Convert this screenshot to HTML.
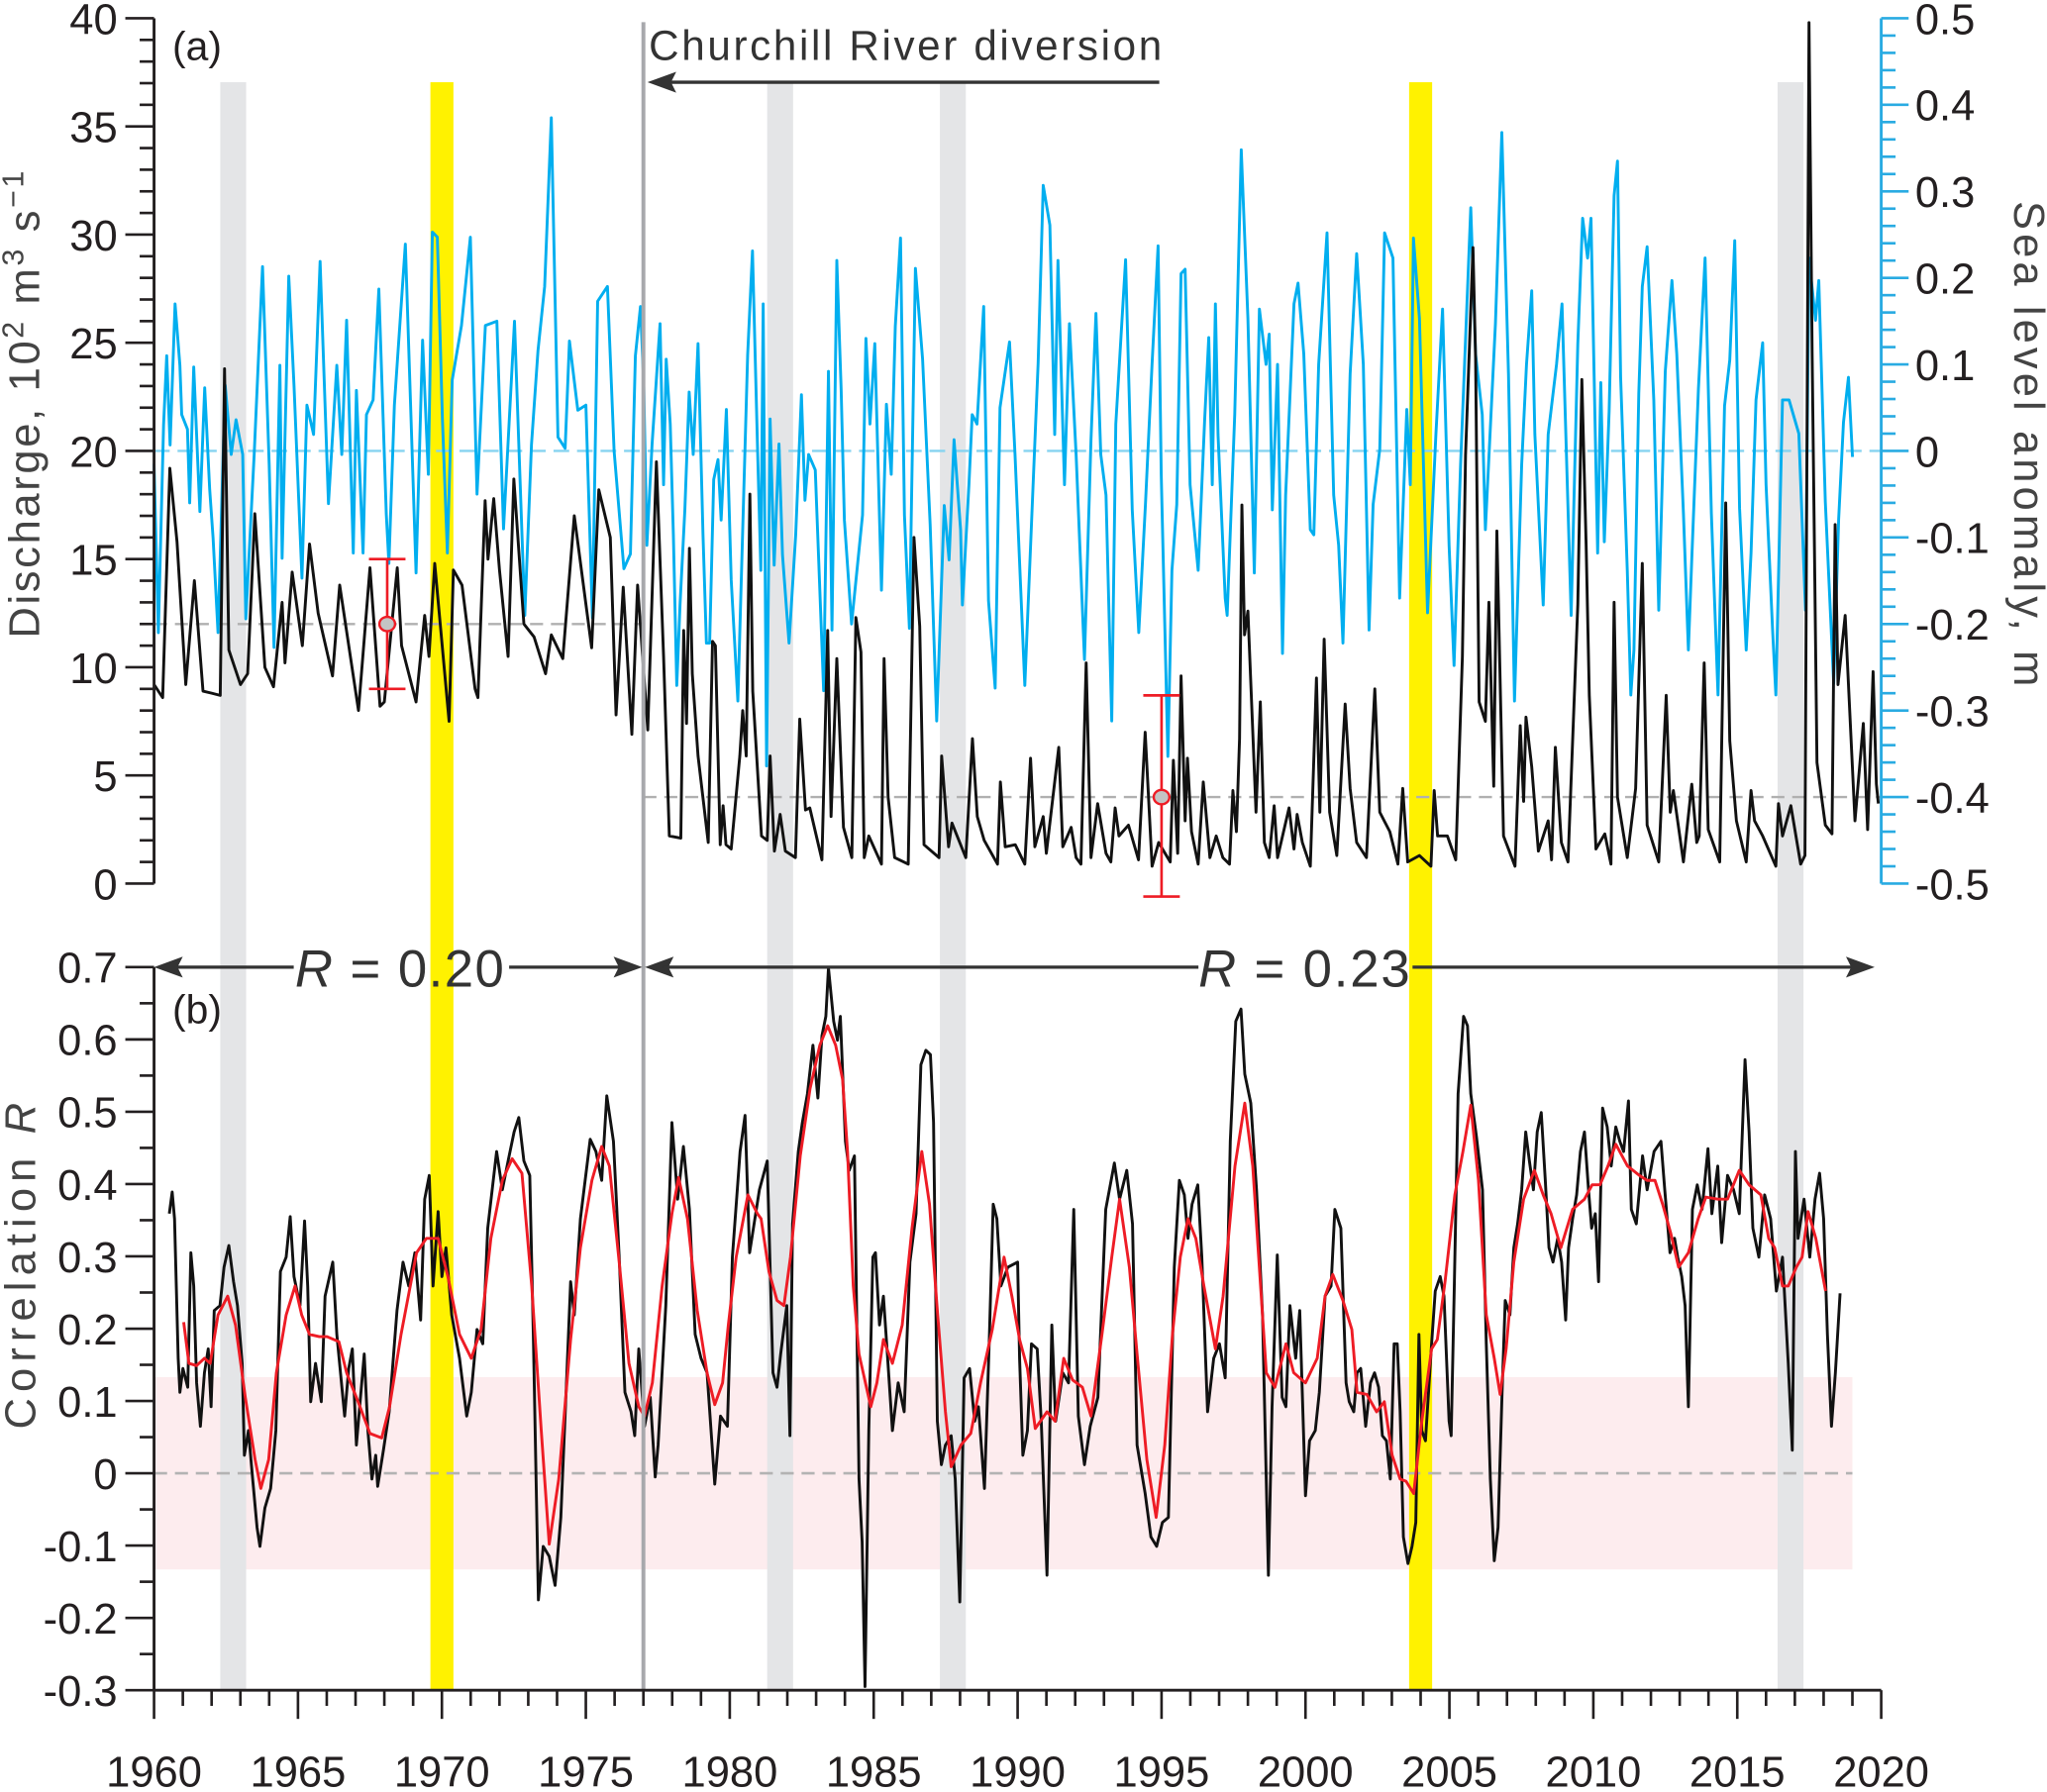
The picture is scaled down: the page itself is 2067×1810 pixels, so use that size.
<!DOCTYPE html>
<html><head><meta charset="utf-8"><style>
html,body{margin:0;padding:0;background:#fff;}
svg{display:block;font-family:"Liberation Sans",Arial,sans-serif;}
</style></head><body>
<svg id="chart" xmlns="http://www.w3.org/2000/svg" width="2067" height="1810" viewBox="0 0 1568 1373" preserveAspectRatio="none">
<g id="bg"></g>
<g id="series"></g>
<g id="axes"></g>
<g id="annot">
<text x="132" y="46" font-size="31" fill="#231f20">(a)</text>
<text x="132" y="784" font-size="31" fill="#231f20">(b)</text>
<text x="497" y="46" font-size="32" fill="#333" textLength="393">Churchill River diversion</text>
<line x1="888" y1="63" x2="510" y2="63" stroke="#333" stroke-width="2.5"/>
<polygon points="496,63 518,55 514,63 518,71" fill="#333"/>
<text x="30" y="310" font-size="33" fill="#444" text-anchor="middle" transform="rotate(-90 30 310)" textLength="358">Discharge, 10<tspan dy="-12" font-size="23">2</tspan><tspan dy="12"> m</tspan><tspan dy="-12" font-size="23">3</tspan><tspan dy="12"> s</tspan><tspan dy="-12" font-size="23">−1</tspan></text>
<text x="27" y="970" font-size="33" fill="#444" text-anchor="middle" transform="rotate(-90 27 970)" textLength="250">Correlation <tspan font-style="italic">R</tspan></text>
<text x="1543" y="340" font-size="33" fill="#444" text-anchor="middle" transform="rotate(90 1543 340)" textLength="372">Sea level anomaly, m</text>
<line x1="132" y1="741" x2="225" y2="741" stroke="#333" stroke-width="2.5"/>
<polygon points="118,741 140,733 136,741 140,749" fill="#333"/>
<text x="226" y="756" font-size="40" fill="#333" textLength="160"><tspan font-style="italic">R</tspan> = 0.20</text>
<line x1="390" y1="741" x2="478" y2="741" stroke="#333" stroke-width="2.5"/>
<polygon points="492,741 470,733 474,741 470,749" fill="#333"/>
<polygon points="494,741 516,733 512,741 516,749" fill="#333"/>
<line x1="508" y1="741" x2="918" y2="741" stroke="#333" stroke-width="2.5"/>
<text x="918" y="756" font-size="40" fill="#333" textLength="162"><tspan font-style="italic">R</tspan> = 0.23</text>
<line x1="1082" y1="741" x2="1422" y2="741" stroke="#333" stroke-width="2.5"/>
<polygon points="1436,741 1414,733 1418,741 1414,749" fill="#333"/>
</g>
</svg>
<script>
// ---- data ----
const dischargeYears=[1960.0,1960.3,1960.55,1960.8,1961.1,1961.4,1961.7,1962.0,1962.3,1962.45,1962.6,1963.0,1963.25,1963.5,1963.85,1964.15,1964.45,1964.55,1964.8,1965.15,1965.4,1965.7,1966.2,1966.45,1967.1,1967.5,1967.85,1968.0,1968.45,1968.6,1969.1,1969.4,1969.55,1969.75,1970.25,1970.4,1970.7,1971.15,1971.25,1971.5,1971.6,1971.8,1972.0,1972.3,1972.5,1972.85,1973.2,1973.6,1973.8,1974.2,1974.6,1975.2,1975.45,1975.85,1976.05,1976.3,1976.6,1976.8,1977.15,1977.45,1977.7,1977.9,1978.3,1978.4,1978.5,1978.6,1978.7,1978.9,1979.25,1979.4,1979.5,1979.67,1979.77,1979.87,1980.05,1980.35,1980.45,1980.57,1980.7,1980.8,1981.1,1981.3,1981.4,1981.55,1981.75,1981.93,1982.28,1982.43,1982.63,1982.78,1983.2,1983.4,1983.52,1983.72,1983.95,1984.24,1984.38,1984.56,1984.67,1984.83,1985.27,1985.36,1985.5,1985.73,1986.2,1986.4,1986.6,1986.75,1987.27,1987.36,1987.6,1987.72,1988.2,1988.43,1988.6,1988.84,1989.3,1989.4,1989.57,1989.92,1990.25,1990.45,1990.6,1990.89,1991.0,1991.43,1991.57,1991.86,1992.03,1992.2,1992.38,1992.55,1992.78,1993.07,1993.24,1993.39,1993.52,1993.85,1994.2,1994.43,1994.67,1994.9,1995.3,1995.41,1995.56,1995.68,1995.82,1995.9,1996.04,1996.27,1996.45,1996.68,1996.9,1997.13,1997.36,1997.48,1997.6,1997.71,1997.79,1997.88,1998.0,1998.28,1998.43,1998.57,1998.74,1998.91,1999.03,1999.43,1999.6,1999.71,1999.89,2000.17,2000.38,2000.5,2000.65,2000.84,2001.09,2001.38,2001.55,2001.78,2002.12,2002.41,2002.58,2002.93,2003.21,2003.38,2003.55,2003.96,2004.36,2004.47,2004.59,2004.93,2005.22,2005.45,2005.56,2005.82,2005.91,2006.03,2006.25,2006.37,2006.54,2006.65,2006.88,2007.28,2007.46,2007.58,2007.66,2007.86,2008.09,2008.43,2008.55,2008.68,2008.89,2009.12,2009.46,2009.6,2009.75,2009.86,2010.09,2010.4,2010.61,2010.72,2010.84,2011.18,2011.47,2011.7,2011.87,2012.27,2012.53,2012.67,2012.78,2013.13,2013.42,2013.59,2013.68,2013.85,2013.99,2014.39,2014.6,2014.74,2014.97,2015.31,2015.48,2015.6,2015.88,2016.34,2016.43,2016.57,2016.86,2017.2,2017.35,2017.49,2017.6,2017.77,2018.06,2018.29,2018.4,2018.5,2018.75,2019.09,2019.38,2019.53,2019.72,2019.83,2019.9];
const dischargeValues=[9.2,8.6,19.2,15.8,9.2,14,8.9,8.8,8.7,23.8,10.8,9.2,9.7,17.1,10,9.1,13,10.2,14.4,11,15.7,12.5,9.6,13.8,8,14.6,8.2,8.4,14.6,11,8.4,12.4,10.5,14.8,7.5,14.5,13.8,9,8.6,17.7,15,17.8,14.5,10.5,18.7,12,11.4,9.7,11.5,10.4,17,10.9,18.2,16,7.8,13.7,6.9,13.8,7.1,19.5,10.5,2.2,2.1,11.7,7.4,15.5,9.7,5.9,1.9,11.2,11.0,1.8,3.6,1.8,1.6,5.9,8,5.9,18,8.9,2.2,2.0,5.9,1.5,3.2,1.5,1.2,7.6,3.4,3.5,1.1,11.7,3.1,10.4,2.6,1.2,12.3,10.7,1.2,2.2,0.9,10.4,4,1.2,0.9,16,11.9,1.8,1.2,5.9,1.7,2.8,1.2,6.7,3.1,2.0,0.9,4.7,1.7,1.8,0.9,5.8,1.7,3.1,1.4,6.3,1.7,2.6,1.2,0.9,10.2,1.2,3.7,1.4,1.0,3.5,2.2,2.7,1.1,7.0,0.8,1.9,1.0,5.7,1.4,9.6,2.9,5.8,2.4,0.9,4.7,1.2,2.2,1.2,0.9,4.3,2.4,6.7,17.5,11.5,12.6,3.3,8.4,1.9,1.2,3.6,1.2,3.5,1.6,3.2,1.9,0.8,9.5,3.3,11.3,3.3,1.3,8.3,4.4,1.9,1.2,9.0,3.3,2.4,0.9,4.4,1.0,1.3,0.8,4.3,2.2,2.2,1.1,10.5,19.8,29.4,24.3,8.4,7.5,13,4.5,16.3,2.2,0.8,7.3,3.8,7.7,5.4,1.5,2.9,1.1,6.3,1.9,1.0,12.9,23.3,15.6,8.7,1.6,2.3,0.9,13.0,4.0,1.2,4.4,14.8,2.7,1.0,8.7,3.3,4.3,1.0,4.6,1.9,2.2,10.2,2.5,1.0,17.6,6.6,2.9,1.0,4.3,2.9,2.2,0.8,3.7,2.2,3.6,0.9,1.3,39.8,24.5,5.6,2.7,2.3,16.6,9.2,12.4,2.9,7.4,2.5,9.8,4.6,3.7];
const seaLevelYears=[1960.0,1960.15,1960.33,1960.44,1960.56,1960.73,1960.9,1960.96,1961.16,1961.24,1961.38,1961.59,1961.76,1961.93,1962.05,1962.22,1962.47,1962.68,1962.85,1963.08,1963.19,1963.48,1963.77,1964.0,1964.17,1964.37,1964.45,1964.68,1964.86,1965.14,1965.31,1965.54,1965.77,1966.06,1966.35,1966.52,1966.69,1966.92,1967.03,1967.26,1967.38,1967.61,1967.81,1968.07,1968.16,1968.35,1968.73,1969.1,1969.33,1969.53,1969.67,1969.84,1970.02,1970.19,1970.36,1970.68,1970.99,1971.22,1971.51,1971.91,1972.14,1972.52,1972.88,1973.11,1973.34,1973.57,1973.8,1974.03,1974.28,1974.43,1974.72,1975.0,1975.23,1975.41,1975.75,1975.98,1976.32,1976.55,1976.72,1976.9,1977.01,1977.12,1977.3,1977.58,1977.7,1977.79,1977.93,1978.04,1978.16,1978.27,1978.44,1978.59,1978.73,1978.9,1979.07,1979.19,1979.3,1979.44,1979.59,1979.7,1979.88,1980.05,1980.28,1980.45,1980.62,1980.79,1980.97,1981.08,1981.16,1981.28,1981.4,1981.54,1981.71,1981.83,1982.06,1982.29,1982.49,1982.61,1982.74,1982.97,1983.26,1983.43,1983.55,1983.72,1983.87,1983.98,1984.23,1984.61,1984.73,1984.87,1985.04,1985.27,1985.44,1985.61,1985.75,1985.93,1986.07,1986.24,1986.45,1986.7,1986.96,1987.19,1987.45,1987.62,1987.79,1988.02,1988.08,1988.31,1988.42,1988.59,1988.82,1988.99,1989.22,1989.39,1989.72,1989.91,1990.25,1990.48,1990.71,1990.89,1991.12,1991.29,1991.4,1991.63,1991.8,1992.03,1992.32,1992.55,1992.72,1992.89,1993.07,1993.27,1993.41,1993.75,1993.98,1994.21,1994.44,1994.67,1994.88,1994.99,1995.22,1995.36,1995.53,1995.68,1995.82,1995.99,1996.27,1996.5,1996.64,1996.76,1996.87,1996.96,1997.21,1997.28,1997.54,1997.77,1998.0,1998.22,1998.4,1998.63,1998.74,1998.85,1999.03,1999.2,1999.31,1999.6,1999.74,1999.94,2000.17,2000.29,2000.46,2000.75,2000.98,2001.15,2001.3,2001.55,2001.78,2002.01,2002.21,2002.35,2002.58,2002.75,2003.04,2003.27,2003.52,2003.64,2003.75,2003.96,2004.24,2004.53,2004.76,2004.99,2005.16,2005.39,2005.74,2005.91,2006.14,2006.25,2006.6,2006.82,2007.05,2007.26,2007.51,2007.68,2007.86,2007.97,2008.26,2008.43,2008.72,2008.91,2009.23,2009.46,2009.63,2009.8,2009.92,2010.15,2010.26,2010.38,2010.55,2010.72,2010.84,2010.95,2011.18,2011.3,2011.41,2011.58,2011.7,2011.87,2012.1,2012.27,2012.5,2012.73,2012.9,2013.13,2013.3,2013.42,2013.65,2013.88,2014.1,2014.33,2014.56,2014.74,2014.91,2015.08,2015.31,2015.48,2015.65,2015.88,2016.0,2016.23,2016.34,2016.57,2016.8,2017.14,2017.37,2017.49,2017.72,2017.83,2018.06,2018.35,2018.52,2018.69,2018.86,2019.0];
const seaLevelValues=[-0.015,-0.21,0.03,0.11,0.007,0.17,0.099,0.042,0.025,-0.06,0.097,-0.07,0.073,-0.044,-0.1,-0.21,0.076,-0.004,0.036,-0.004,-0.194,-0.004,0.213,-0.016,-0.227,0.099,-0.124,0.202,0.076,-0.147,0.053,0.019,0.219,-0.061,0.099,-0.004,0.151,-0.118,0.07,-0.118,0.042,0.059,0.187,-0.073,-0.13,0.053,0.239,-0.141,0.128,-0.027,0.253,0.247,0.036,-0.118,0.082,0.145,0.247,-0.05,0.145,0.15,-0.09,0.15,-0.19,0.007,0.116,0.19,0.385,0.016,0.003,0.127,0.047,0.053,-0.193,0.173,0.19,0.0,-0.136,-0.119,0.11,0.167,0.077,-0.109,0.008,0.147,-0.039,0.106,0.031,-0.097,-0.271,-0.178,-0.068,0.068,-0.004,0.124,-0.097,-0.222,-0.222,-0.033,-0.01,-0.08,0.048,-0.149,-0.289,-0.092,0.111,0.231,-0.004,-0.138,0.17,-0.364,0.037,-0.132,0.008,-0.12,-0.222,-0.097,0.065,-0.057,-0.004,-0.022,-0.277,0.092,-0.207,0.22,0.072,-0.08,-0.2,-0.074,0.13,0.031,0.124,-0.161,0.054,-0.027,0.144,0.246,-0.074,-0.205,0.211,0.106,-0.085,-0.312,-0.063,-0.126,0.013,-0.091,-0.178,-0.039,0.042,0.031,0.167,-0.173,-0.274,0.05,0.126,-0.004,-0.271,-0.085,0.101,0.307,0.261,0.019,0.22,-0.039,0.147,-0.004,-0.241,0.013,0.159,-0.004,-0.051,-0.312,0.031,0.221,-0.068,-0.21,-0.062,0.101,0.237,-0.027,-0.353,-0.138,-0.062,0.205,0.21,-0.039,-0.138,0.037,0.131,-0.039,0.17,0.019,-0.17,-0.19,0.042,0.348,0.153,-0.141,0.164,0.1,0.135,-0.068,0.1,-0.234,-0.051,0.17,0.194,0.112,-0.091,-0.097,0.1,0.252,-0.051,-0.109,-0.222,0.089,0.228,0.1,-0.207,-0.062,0.002,0.252,0.223,-0.17,0.048,-0.039,0.246,0.153,-0.187,0.019,0.164,-0.109,-0.248,-0.016,0.281,0.112,0.042,-0.091,0.147,0.368,0.089,-0.289,-0.016,0.1,0.185,0.019,-0.178,0.019,0.1,0.17,-0.19,0.124,0.269,0.223,0.269,-0.118,0.079,-0.105,0.046,0.295,0.335,0.085,-0.138,-0.282,-0.23,0.066,0.19,0.236,0.059,-0.184,0.092,0.197,0.112,-0.072,-0.23,-0.125,0.072,0.223,-0.072,-0.282,0.052,0.105,0.243,-0.066,-0.23,-0.118,0.059,0.125,-0.039,-0.21,-0.282,0.059,0.059,0.02,-0.184,0.223,0.151,0.197,-0.059,-0.269,-0.079,0.033,0.085,-0.007];
const corrYears=[1960.53,1960.63,1960.71,1960.84,1960.9,1961.0,1961.17,1961.28,1961.38,1961.48,1961.61,1961.75,1961.88,1961.98,1962.09,1962.29,1962.43,1962.6,1962.76,1962.9,1963.06,1963.14,1963.28,1963.41,1963.58,1963.68,1963.85,1964.05,1964.23,1964.39,1964.59,1964.73,1964.86,1965.07,1965.23,1965.34,1965.44,1965.61,1965.81,1965.94,1966.21,1966.35,1966.62,1966.76,1966.89,1967.03,1967.3,1967.43,1967.57,1967.7,1967.77,1967.97,1968.17,1968.44,1968.65,1968.85,1969.06,1969.26,1969.4,1969.56,1969.69,1969.87,1970.0,1970.14,1970.34,1970.61,1970.86,1971.02,1971.22,1971.42,1971.59,1971.9,1972.1,1972.3,1972.51,1972.67,1972.85,1973.05,1973.18,1973.35,1973.52,1973.73,1973.93,1974.13,1974.27,1974.47,1974.6,1974.81,1975.15,1975.35,1975.55,1975.73,1975.96,1976.16,1976.36,1976.57,1976.7,1976.84,1977.04,1977.24,1977.41,1977.51,1977.78,1977.99,1978.19,1978.39,1978.6,1978.8,1979.0,1979.21,1979.48,1979.68,1979.92,1980.09,1980.36,1980.53,1980.69,1981.03,1981.3,1981.5,1981.64,1981.77,1981.98,1982.09,1982.18,1982.38,1982.52,1982.7,1982.89,1983.06,1983.2,1983.34,1983.43,1983.61,1983.74,1983.84,1984.02,1984.15,1984.33,1984.43,1984.49,1984.6,1984.7,1984.83,1984.97,1985.06,1985.2,1985.34,1985.45,1985.65,1985.85,1986.06,1986.26,1986.47,1986.64,1986.81,1986.97,1987.08,1987.21,1987.35,1987.49,1987.69,1987.83,1987.99,1988.14,1988.33,1988.51,1988.64,1988.85,1989.01,1989.15,1989.28,1989.42,1989.66,1990.0,1990.07,1990.18,1990.34,1990.48,1990.68,1990.82,1991.02,1991.19,1991.32,1991.57,1991.77,1991.95,1992.11,1992.32,1992.52,1992.79,1993.06,1993.36,1993.54,1993.79,1993.99,1994.15,1994.43,1994.63,1994.83,1995.03,1995.24,1995.44,1995.62,1995.79,1995.92,1996.06,1996.26,1996.4,1996.6,1996.81,1997.01,1997.21,1997.39,1997.58,1997.76,1997.89,1998.1,1998.3,1998.51,1998.71,1998.84,1999.02,1999.19,1999.32,1999.46,1999.66,1999.8,2000.0,2000.14,2000.34,2000.48,2000.68,2000.89,2001.02,2001.23,2001.41,2001.52,2001.68,2001.79,2001.92,2002.09,2002.26,2002.4,2002.54,2002.67,2002.81,2002.95,2003.08,2003.19,2003.29,2003.4,2003.56,2003.7,2003.83,2003.94,2004.04,2004.17,2004.38,2004.51,2004.68,2004.81,2004.99,2005.06,2005.17,2005.3,2005.49,2005.63,2005.74,2005.94,2006.15,2006.28,2006.42,2006.56,2006.69,2006.83,2006.94,2007.1,2007.24,2007.37,2007.51,2007.65,2007.78,2007.92,2008.05,2008.19,2008.33,2008.46,2008.6,2008.76,2008.9,2009.04,2009.14,2009.28,2009.42,2009.55,2009.69,2009.83,2009.94,2010.07,2010.18,2010.32,2010.48,2010.62,2010.78,2010.92,2011.05,2011.22,2011.32,2011.49,2011.71,2011.87,2012.11,2012.35,2012.48,2012.66,2012.82,2012.93,2013.07,2013.19,2013.3,2013.44,2013.61,2013.78,2013.98,2014.12,2014.32,2014.46,2014.66,2014.87,2015.07,2015.27,2015.41,2015.54,2015.75,2015.95,2016.16,2016.36,2016.57,2016.77,2016.91,2017.02,2017.11,2017.32,2017.52,2017.7,2017.86,2018.0,2018.13,2018.27,2018.41,2018.57];
const corrValues=[0.359,0.389,0.352,0.159,0.112,0.145,0.119,0.305,0.259,0.125,0.065,0.139,0.172,0.092,0.225,0.232,0.285,0.315,0.265,0.232,0.152,0.025,0.059,-0.001,-0.075,-0.101,-0.048,-0.021,0.059,0.279,0.299,0.355,0.272,0.232,0.349,0.259,0.099,0.152,0.099,0.245,0.292,0.192,0.079,0.145,0.172,0.039,0.165,0.059,-0.008,0.025,-0.018,0.032,0.085,0.225,0.292,0.259,0.305,0.212,0.379,0.412,0.259,0.362,0.272,0.312,0.219,0.159,0.079,0.112,0.199,0.179,0.339,0.445,0.392,0.432,0.472,0.492,0.432,0.412,0.185,-0.175,-0.101,-0.115,-0.155,-0.061,0.072,0.265,0.219,0.352,0.462,0.445,0.405,0.522,0.459,0.299,0.112,0.085,0.052,0.172,0.065,0.105,-0.005,0.039,0.232,0.485,0.379,0.452,0.365,0.192,0.159,0.139,-0.015,0.079,0.065,0.299,0.445,0.495,0.305,0.392,0.432,0.139,0.119,0.165,0.232,0.052,0.345,0.445,0.485,0.525,0.592,0.519,0.605,0.632,0.699,0.625,0.599,0.632,0.459,0.419,0.439,0.159,-0.008,-0.095,-0.295,0.059,0.299,0.305,0.205,0.245,0.179,0.059,0.125,0.085,0.292,0.359,0.565,0.585,0.579,0.485,0.072,0.012,0.039,0.052,-0.008,-0.178,0.132,0.145,0.072,0.092,-0.021,0.179,0.372,0.352,0.259,0.285,0.292,0.159,0.025,0.059,0.179,0.172,0.072,-0.141,0.205,0.072,0.139,0.125,0.365,0.079,0.012,0.065,0.105,0.365,0.429,0.379,0.419,0.345,0.039,-0.028,-0.088,-0.101,-0.068,-0.061,0.285,0.405,0.385,0.325,0.372,0.399,0.299,0.085,0.159,0.179,0.132,0.459,0.625,0.642,0.552,0.512,0.392,0.219,-0.141,0.092,0.302,0.105,0.092,0.232,0.159,0.225,-0.031,0.045,0.059,0.112,0.245,0.259,0.365,0.339,0.125,0.099,0.085,0.139,0.145,0.065,0.125,0.139,0.119,0.052,0.045,-0.008,0.179,0.179,0.085,-0.088,-0.125,-0.101,-0.068,0.192,0.059,0.045,0.179,0.252,0.272,0.245,0.072,0.052,0.259,0.525,0.632,0.619,0.525,0.465,0.392,0.179,-0.008,-0.121,-0.075,0.112,0.239,0.219,0.312,0.345,0.392,0.472,0.432,0.392,0.472,0.499,0.405,0.312,0.292,0.325,0.292,0.212,0.312,0.352,0.385,0.445,0.472,0.392,0.339,0.359,0.265,0.505,0.479,0.425,0.479,0.459,0.445,0.515,0.365,0.345,0.439,0.392,0.445,0.459,0.392,0.305,0.325,0.299,0.272,0.232,0.092,0.365,0.399,0.365,0.449,0.359,0.425,0.319,0.412,0.392,0.359,0.572,0.472,0.339,0.299,0.385,0.352,0.252,0.299,0.152,0.032,0.445,0.325,0.379,0.299,0.379,0.415,0.352,0.192,0.065,0.139,0.249];
const smoothYears=[1961.03,1961.21,1961.48,1961.75,1961.95,1962.22,1962.56,1962.83,1963.17,1963.51,1963.71,1963.98,1964.25,1964.59,1964.9,1965.13,1965.4,1965.74,1966.01,1966.42,1966.69,1967.09,1967.5,1967.91,1968.18,1968.58,1969.12,1969.46,1969.87,1970.21,1970.61,1971.02,1971.36,1971.7,1972.1,1972.44,1972.78,1973.12,1973.45,1973.73,1974.06,1974.47,1974.81,1975.21,1975.55,1975.82,1976.16,1976.5,1976.84,1977.04,1977.31,1977.65,1977.99,1978.22,1978.53,1978.87,1979.21,1979.48,1979.75,1979.95,1980.22,1980.63,1980.96,1981.09,1981.36,1981.64,1981.88,1982.11,1982.45,1982.79,1983.13,1983.4,1983.68,1983.92,1984.09,1984.29,1984.49,1984.9,1985.11,1985.34,1985.65,1985.99,1986.33,1986.67,1986.94,1987.21,1987.49,1987.69,1988.03,1988.37,1988.71,1989.12,1989.53,1989.8,1990.07,1990.34,1990.61,1991.02,1991.3,1991.6,1991.91,1992.25,1992.55,1992.93,1993.27,1993.54,1993.88,1994.15,1994.49,1994.81,1995.11,1995.38,1995.65,1995.92,1996.19,1996.47,1996.87,1997.14,1997.55,1997.89,1998.17,1998.44,1998.64,1998.94,1999.32,1999.59,2000.0,2000.41,2000.68,2000.95,2001.3,2001.61,2001.79,2002.13,2002.47,2002.74,2003.01,2003.29,2003.49,2003.76,2004.04,2004.38,2004.58,2004.85,2005.19,2005.47,2005.74,2006.01,2006.28,2006.56,2006.76,2006.97,2007.24,2007.58,2007.95,2008.26,2008.53,2008.87,2009.28,2009.69,2009.96,2010.23,2010.51,2010.78,2011.19,2011.6,2011.87,2012.14,2012.41,2012.69,2012.96,2013.3,2013.64,2013.91,2014.32,2014.66,2015.07,2015.41,2015.82,2016.09,2016.3,2016.57,2016.77,2017.05,2017.25,2017.46,2017.73,2018.07];
const smoothValues=[0.209,0.152,0.149,0.159,0.152,0.219,0.245,0.205,0.105,0.019,-0.021,0.019,0.139,0.219,0.259,0.219,0.192,0.189,0.189,0.182,0.139,0.099,0.055,0.049,0.092,0.192,0.305,0.325,0.325,0.272,0.192,0.159,0.199,0.325,0.405,0.435,0.415,0.259,0.059,-0.098,-0.008,0.185,0.312,0.405,0.452,0.425,0.292,0.152,0.092,0.079,0.125,0.259,0.359,0.409,0.352,0.225,0.139,0.095,0.125,0.205,0.299,0.385,0.359,0.352,0.279,0.239,0.232,0.299,0.439,0.532,0.592,0.619,0.592,0.545,0.445,0.259,0.165,0.092,0.125,0.185,0.152,0.205,0.339,0.445,0.372,0.225,0.085,0.009,0.039,0.055,0.125,0.199,0.299,0.245,0.185,0.145,0.062,0.085,0.072,0.159,0.129,0.119,0.079,0.192,0.299,0.379,0.285,0.165,0.019,-0.061,0.039,0.192,0.299,0.352,0.325,0.259,0.172,0.245,0.425,0.512,0.425,0.259,0.139,0.119,0.179,0.139,0.125,0.159,0.245,0.275,0.239,0.199,0.112,0.109,0.085,0.099,0.025,-0.008,-0.011,-0.028,0.072,0.172,0.185,0.265,0.385,0.445,0.509,0.405,0.219,0.159,0.109,0.172,0.292,0.379,0.419,0.385,0.359,0.312,0.365,0.379,0.399,0.399,0.425,0.455,0.425,0.412,0.405,0.405,0.372,0.332,0.285,0.305,0.352,0.382,0.379,0.379,0.419,0.399,0.385,0.325,0.312,0.259,0.259,0.285,0.299,0.362,0.325,0.252];
const grayEventStarts=[1962.3,1981.3,1987.3,2016.4];
const grayEventEnds=[1963.2,1982.2,1988.2,2017.3];
const yellowEventStarts=[1969.6,2003.6];
const yellowEventEnds=[1970.4,2004.4];
const meanLevels=[12,4];
const meanStarts=[1960,1977];
const meanEnds=[1977,2020];
const errYears=[1968.1,1995.0];
const errMeans=[12,4];
const errLow=[9,-0.6];
const errHigh=[15,8.7];
const leftTopTicks=[0,5,10,15,20,25,30,35,40];
const rightTicks=["-0.5","-0.4","-0.3","-0.2","-0.1","0","0.1","0.2","0.3","0.4","0.5"];
const corrTicks=["-0.3","-0.2","-0.1","0","0.1","0.2","0.3","0.4","0.5","0.6","0.7"];
const yearTicks=[1960,1965,1970,1975,1980,1985,1990,1995,2000,2005,2010,2015,2020];
const diversionYear=1977;
const sigLevel=0.133;

// ---- scales ----
const NS="http://www.w3.org/2000/svg";
const X0=118,X1=1441;
const xS=y=>X0+(y-1960)*(X1-X0)/60;
const yD=d=>677-d*(677-14)/40;
const ySL=s=>yD(20+40*s);
const yR=r=>1295-(r+0.3)*(1295-741);
function mk(tag,attrs,parent){const e=document.createElementNS(NS,tag);for(const k in attrs)e.setAttribute(k,attrs[k]);parent.appendChild(e);return e;}
const bg=document.getElementById('bg'),series=document.getElementById('series'),axes=document.getElementById('axes');

// significance band first (under event bands)
const pink=mk('rect',{x:X0,y:yR(sigLevel),width:xS(2019)-X0,height:yR(-sigLevel)-yR(sigLevel),fill:'#fdecee'},bg);


// bands
for(let i=0;i<grayEventStarts.length;i++){
  const r=mk('rect',{x:xS(grayEventStarts[i]),y:63,width:xS(grayEventEnds[i])-xS(grayEventStarts[i]),height:1295-63,fill:'#e4e5e7'},bg);
  
  
}
for(let i=0;i<yellowEventStarts.length;i++){
  const r=mk('rect',{x:xS(yellowEventStarts[i]),y:63,width:xS(yellowEventEnds[i])-xS(yellowEventStarts[i]),height:1295-63,fill:'#fff200'},bg);
  
  
}
const zl=mk('line',{x1:X0,x2:xS(2019),y1:yR(0),y2:yR(0),stroke:'#b3b3b3','stroke-width':2,'stroke-dasharray':'10 6'},bg);


const sl0=mk('line',{x1:X0,x2:X1,y1:ySL(0),y2:ySL(0),stroke:'#86d3f0','stroke-width':1.8,'stroke-dasharray':'12 6'},bg);


for(let i=0;i<meanLevels.length;i++){
  const l=mk('line',{x1:xS(meanStarts[i]),x2:xS(meanEnds[i]),y1:yD(meanLevels[i]),y2:yD(meanLevels[i]),stroke:'#b0b0b0','stroke-width':1.8,'stroke-dasharray':'10 6'},bg);
  
  
}

function path(xs,vs,fx,fy,color,w,name){
  let d='';for(let i=0;i<xs.length;i++)d+=(i?'L':'M')+fx(xs[i]).toFixed(1)+' '+fy(vs[i]).toFixed(1);
  const p=mk('path',{d:d,fill:'none',stroke:color,'stroke-width':w,'stroke-linejoin':'round'},series);
  
  
  return p;
}
path(seaLevelYears,seaLevelValues,xS,ySL,'#00aeef',2.2,'sea-level-line');
path(dischargeYears,dischargeValues,xS,yD,'#111',2.2,'discharge-line');
path(corrYears,corrValues,xS,yR,'#111',2.2,'correlation-line');
path(smoothYears,smoothValues,xS,yR,'#ee1c25',2.2,'smoothed-correlation-line');

// error bars
for(let i=0;i<errYears.length;i++){
  const g=mk('g',{},series);
  
  
  const cx=xS(errYears[i]);
  mk('line',{x1:cx,x2:cx,y1:yD(errLow[i]),y2:yD(errHigh[i]),stroke:'#ee1c25','stroke-width':2},g);
  mk('line',{x1:cx-14,x2:cx+14,y1:yD(errLow[i]),y2:yD(errLow[i]),stroke:'#ee1c25','stroke-width':2},g);
  mk('line',{x1:cx-14,x2:cx+14,y1:yD(errHigh[i]),y2:yD(errHigh[i]),stroke:'#ee1c25','stroke-width':2},g);
  mk('ellipse',{cx:cx,cy:yD(errMeans[i]),rx:6,ry:5.5,fill:'#c4c4c4',stroke:'#ee1c25','stroke-width':1.8},g);
}
// diversion line
const dv=mk('line',{x1:xS(diversionYear),x2:xS(diversionYear),y1:17,y2:1295,stroke:'#a7a8ac','stroke-width':3},series);



// axes
const la=mk('line',{x1:X0,x2:X0,y1:14,y2:677,stroke:'#231f20','stroke-width':2.2},axes);


for(let d=0;d<=40;d++){
  const len=d%5===0?22:11;
  mk('line',{x1:X0-len,x2:X0,y1:yD(d),y2:yD(d),stroke:'#231f20','stroke-width':2},axes);
}
leftTopTicks.forEach(v=>{
  const t=mk('text',{x:90,y:yD(v)+12,'font-size':33,'text-anchor':'end',fill:'#231f20'},axes);
  t.textContent=String(v);
  
  
});
const ra=mk('line',{x1:X1,x2:X1,y1:14,y2:677,stroke:'#29abe2','stroke-width':2.2},axes);


for(let k=-25;k<=25;k++){
  const len=k%5===0?21:11;
  mk('line',{x1:X1,x2:X1+len,y1:ySL(k*0.02),y2:ySL(k*0.02),stroke:'#29abe2','stroke-width':2},axes);
}
rightTicks.forEach(s=>{
  const t=mk('text',{x:1467,y:ySL(parseFloat(s))+12,'font-size':33,fill:'#231f20'},axes);
  t.textContent=s;
  
  
});
const ca=mk('line',{x1:X0,x2:X0,y1:741,y2:1295,stroke:'#231f20','stroke-width':2.2},axes);


for(let k=-6;k<=14;k++){
  const len=k%2===0?22:11;
  mk('line',{x1:X0-len,x2:X0,y1:yR(k*0.05),y2:yR(k*0.05),stroke:'#231f20','stroke-width':2},axes);
}
corrTicks.forEach(s=>{
  const t=mk('text',{x:90,y:yR(parseFloat(s))+12,'font-size':33,'text-anchor':'end',fill:'#231f20'},axes);
  t.textContent=s;
  
  
});
const ba=mk('line',{x1:X0,x2:X1,y1:1295,y2:1295,stroke:'#231f20','stroke-width':2.2},axes);


for(let y=1960;y<=2020;y++){
  const len=y%5===0?22:12;
  mk('line',{x1:xS(y),x2:xS(y),y1:1295,y2:1295+len,stroke:'#231f20','stroke-width':2},axes);
}
yearTicks.forEach(y=>{
  const t=mk('text',{x:xS(y),y:1369,'font-size':33,'text-anchor':'middle',fill:'#231f20'},axes);
  t.textContent=String(y);
  
  
});
</script>
</body></html>
